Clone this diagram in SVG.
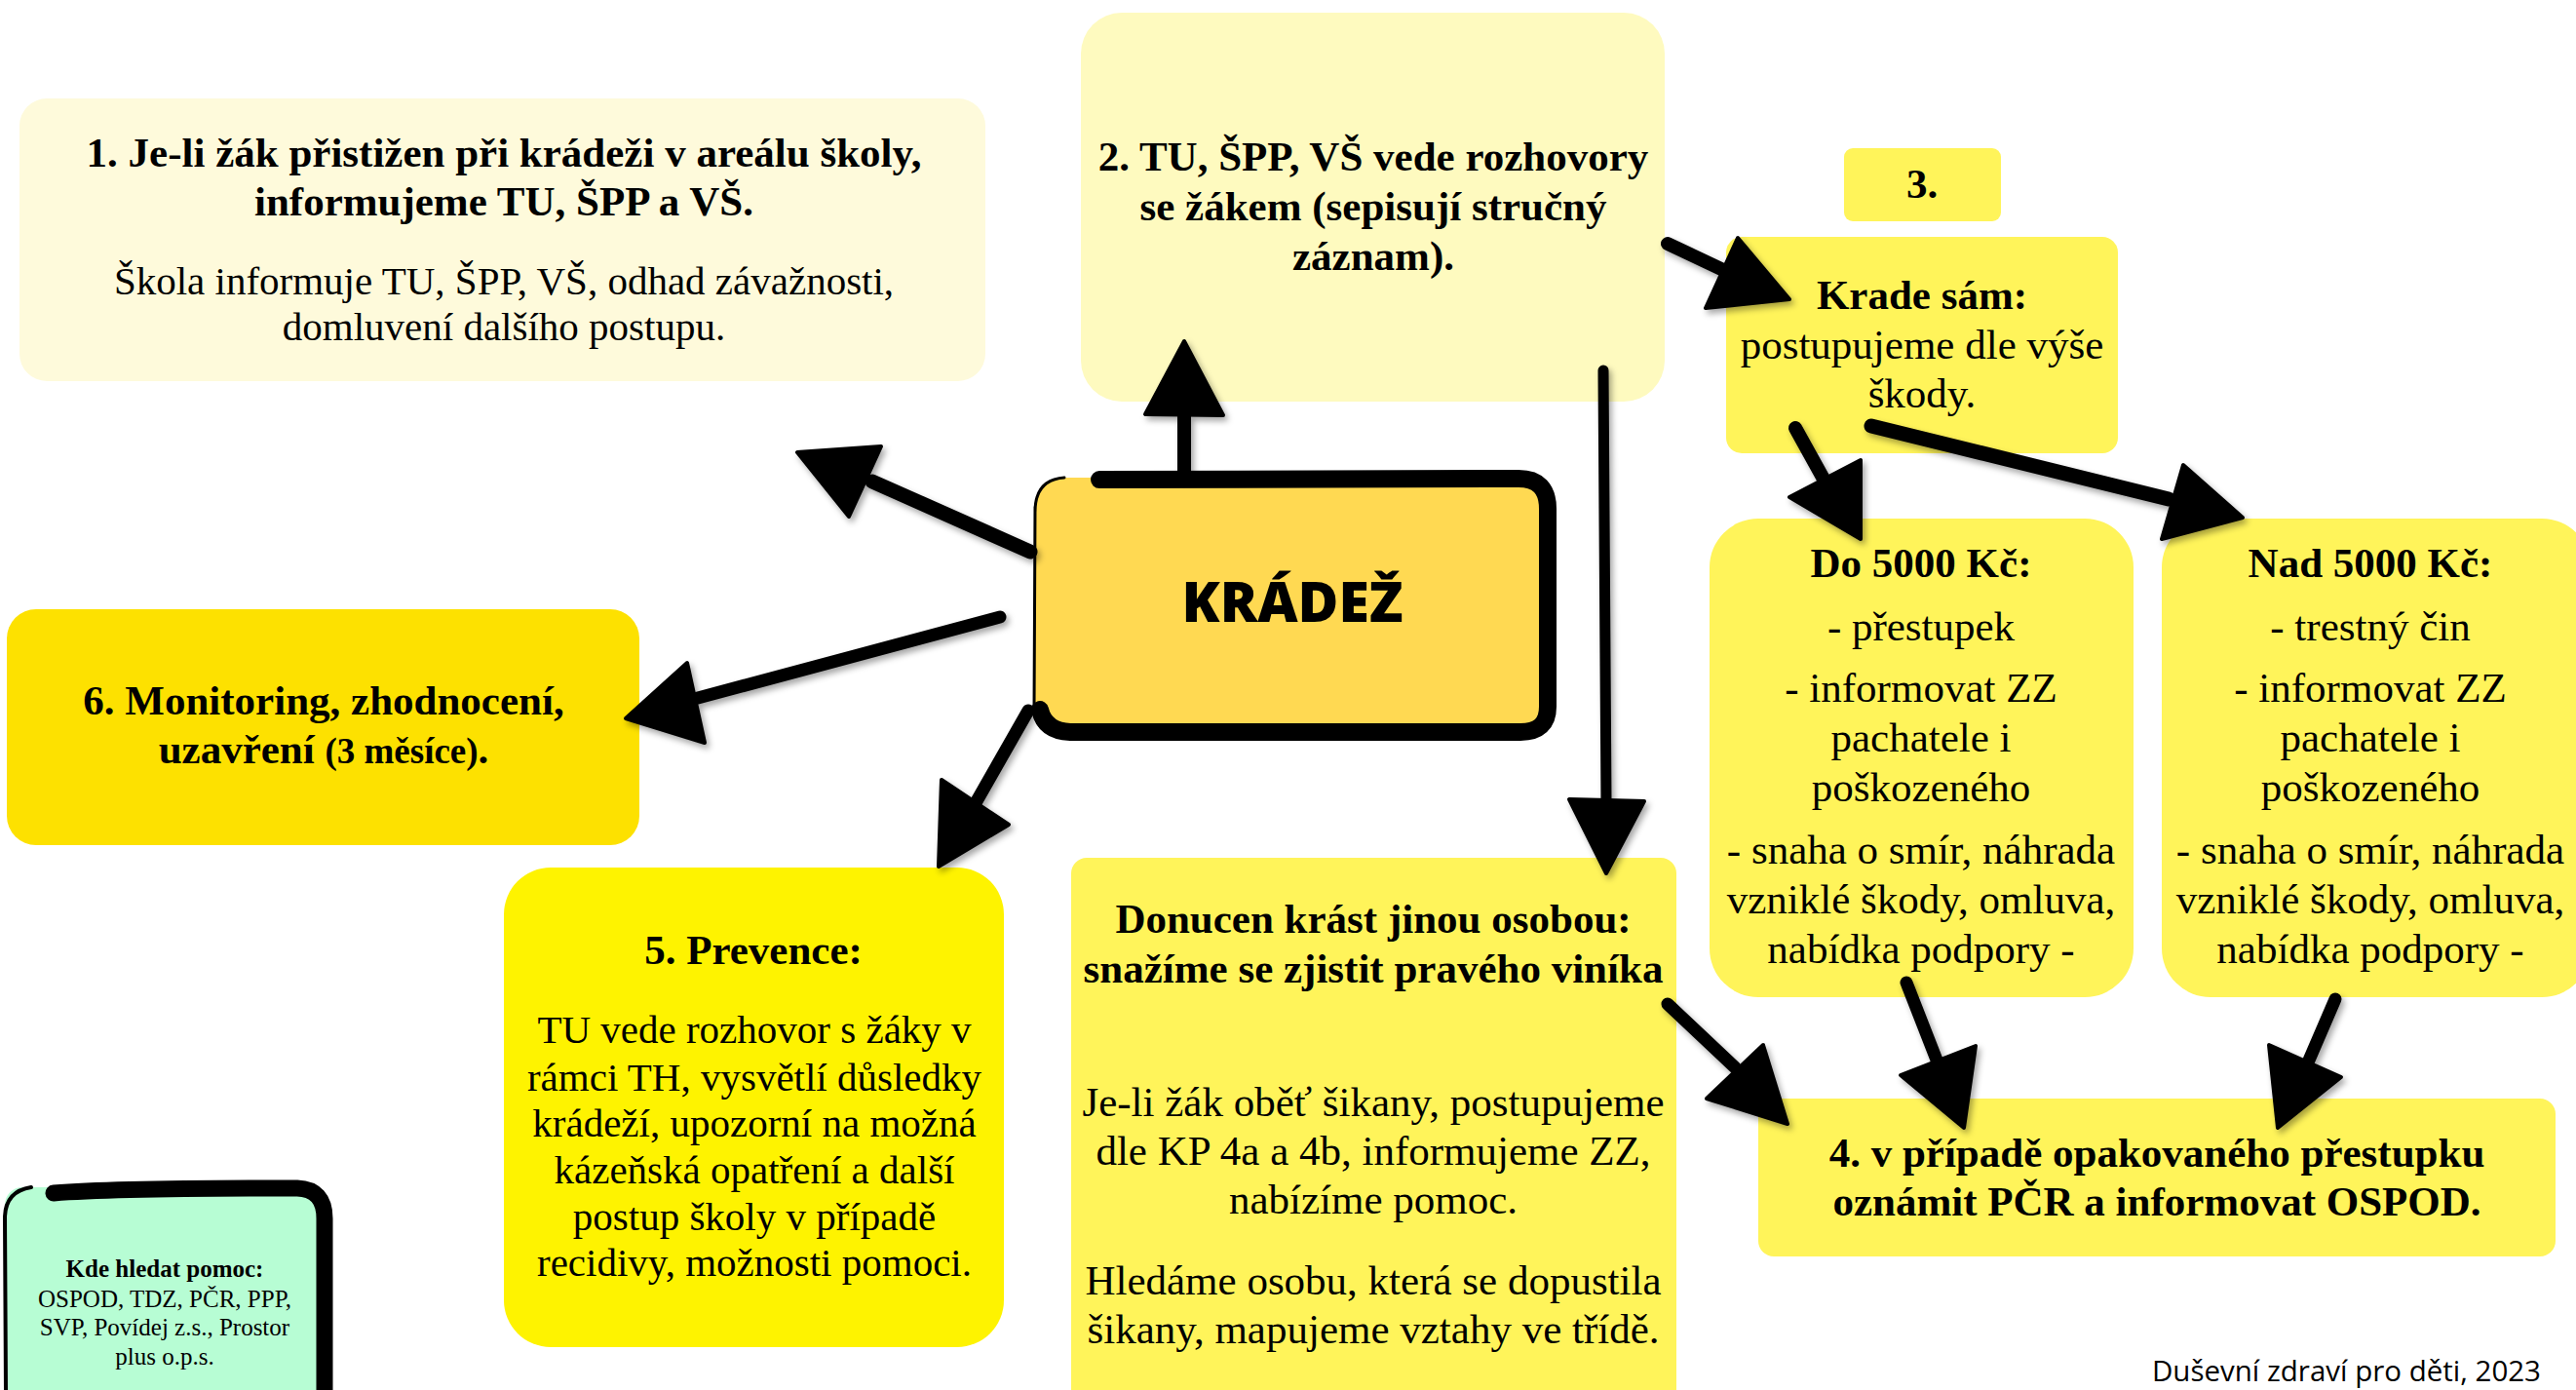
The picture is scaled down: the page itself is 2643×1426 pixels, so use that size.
<svg xmlns="http://www.w3.org/2000/svg" width="2643" height="1426" viewBox="0 0 2643 1426">
<style>
.s{font-family:"Liberation Serif","Times New Roman",serif;fill:#000;text-anchor:middle}
.b{font-weight:bold}
.f43{font-size:43px}
.f42{font-size:42px}
.f41{font-size:41px}
.f24{font-size:25px}
.sh{stroke:#000;fill:none;stroke-linecap:round;stroke-linejoin:round}
.hd{fill:#000;stroke:#000;stroke-width:4;stroke-linejoin:round}
</style>
<defs>
<filter id="ds" x="-20%" y="-20%" width="140%" height="140%">
<feDropShadow dx="3" dy="4" stdDeviation="3" flood-color="#000" flood-opacity="0.35"/>
</filter>
</defs>

<g id="node-1">
<rect x="20" y="101" width="991" height="290" rx="28" fill="#FEFADB"/>
<text class="s b f43" x="517" y="171">1. Je-li žák přistižen při krádeži v areálu školy,</text>
<text class="s b f43" x="517" y="221">informujeme TU, ŠPP a VŠ.</text>
<text class="s f41" x="517" y="302">Škola informuje TU, ŠPP, VŠ, odhad závažnosti,</text>
<text class="s f41" x="517" y="349">domluvení dalšího postupu.</text>
</g>

<g id="node-2">
<rect x="1109" y="13" width="599" height="399" rx="42" fill="#FEFABF"/>
<text class="s b f43" x="1409" y="175">2. TU, ŠPP, VŠ vede rozhovory</text>
<text class="s b f43" x="1409" y="226">se žákem (sepisují stručný</text>
<text class="s b f43" x="1409" y="277">záznam).</text>
</g>

<g id="node-3">
<rect x="1892" y="152" width="161" height="75" rx="9" fill="#FFF45A"/>
<text class="s b f43" x="1972" y="203">3.</text>
</g>

<g id="node-krade-sam">
<rect x="1771" y="243" width="402" height="222" rx="16" fill="#FFF45A"/>
<text class="s b f43" x="1972" y="317">Krade sám:</text>
<text class="s f43" x="1972" y="368">postupujeme dle výše</text>
<text class="s f43" x="1972" y="418">škody.</text>
</g>

<g id="node-do5000">
<rect x="1754" y="532" width="435" height="491" rx="50" fill="#FFF45A"/>
<text class="s b f43" x="1971" y="592">Do 5000 Kč:</text>
<text class="s f43" x="1971" y="657">- přestupek</text>
<text class="s f43" x="1971" y="720">- informovat ZZ</text>
<text class="s f43" x="1971" y="771">pachatele i</text>
<text class="s f43" x="1971" y="822">poškozeného</text>
<text class="s f43" x="1971" y="886">- snaha o smír, náhrada</text>
<text class="s f43" x="1971" y="937">vzniklé škody, omluva,</text>
<text class="s f43" x="1971" y="988">nabídka podpory -</text>
</g>

<g id="node-nad5000">
<rect x="2218" y="532" width="440" height="491" rx="50" fill="#FFF45A"/>
<text class="s b f43" x="2432" y="592">Nad 5000 Kč:</text>
<text class="s f43" x="2432" y="657">- trestný čin</text>
<text class="s f43" x="2432" y="720">- informovat ZZ</text>
<text class="s f43" x="2432" y="771">pachatele i</text>
<text class="s f43" x="2432" y="822">poškozeného</text>
<text class="s f43" x="2432" y="886">- snaha o smír, náhrada</text>
<text class="s f43" x="2432" y="937">vzniklé škody, omluva,</text>
<text class="s f43" x="2432" y="988">nabídka podpory -</text>
</g>

<g id="node-kradez">
<rect x="1062" y="490" width="524" height="262" rx="28" fill="#FFD952"/>
<path class="sh" stroke-width="3" d="M1062,525 Q1062,492 1092,490 M1062,520 L1061,728 Q1062,752 1090,754"/>
<path class="sh" stroke-width="18" d="M1128,492 L1558,491 Q1588,491 1588,522 L1588,725 Q1588,751 1560,751 L1098,751 Q1072,750 1067,728"/>
<text x="1326" y="638" font-family="'Open Sans','DejaVu Sans',sans-serif" font-weight="800" font-size="57" text-anchor="middle" fill="#000">KRÁDEŽ</text>
</g>

<g id="node-6">
<rect x="7" y="625" width="649" height="242" rx="30" fill="#FDE100"/>
<text class="s b f43" x="332" y="733">6. Monitoring, zhodnocení,</text>
<text class="s b f43" x="332" y="783">uzavření <tspan font-size="37">(3 měsíce)</tspan>.</text>
</g>

<g id="node-5">
<rect x="517" y="890" width="513" height="492" rx="48" fill="#FEF300"/>
<text class="s b f43" x="773" y="989">5. Prevence:</text>
<text class="s f41" x="774" y="1070">TU vede rozhovor s žáky v</text>
<text class="s f41" x="774" y="1119">rámci TH, vysvětlí důsledky</text>
<text class="s f41" x="774" y="1166">krádeží, upozorní na možná</text>
<text class="s f41" x="774" y="1214">kázeňská opatření a další</text>
<text class="s f41" x="774" y="1262">postup školy v případě</text>
<text class="s f41" x="774" y="1309">recidivy, možnosti pomoci.</text>
</g>

<g id="node-donucen">
<rect x="1099" y="880" width="621" height="570" rx="16" fill="#FFF45A"/>
<text class="s b f43" x="1409" y="957">Donucen krást jinou osobou:</text>
<text class="s b f43" x="1409" y="1008">snažíme se zjistit pravého viníka</text>
<text class="s f43" x="1409" y="1145">Je-li žák oběť šikany, postupujeme</text>
<text class="s f43" x="1409" y="1195">dle KP 4a a 4b, informujeme ZZ,</text>
<text class="s f43" x="1409" y="1245">nabízíme pomoc.</text>
<text class="s f43" x="1409" y="1328">Hledáme osobu, která se dopustila</text>
<text class="s f43" x="1409" y="1378">šikany, mapujeme vztahy ve třídě.</text>
</g>

<g id="node-4">
<rect x="1804" y="1127" width="818" height="162" rx="16" fill="#FFF45A"/>
<text class="s b f43" x="2213" y="1197">4. v případě opakovaného přestupku</text>
<text class="s b f43" x="2213" y="1247">oznámit PČR a informovat OSPOD.</text>
</g>

<g id="node-help">
<rect x="5" y="1218" width="328" height="230" rx="18" fill="#B7FDD4"/>
<path class="sh" stroke-width="4" d="M6,1430 L5,1248 Q6,1222 32,1218"/>
<path class="sh" stroke-width="17" d="M55,1224 Q120,1219 305,1219 Q333,1220 333,1250 L333,1440"/>
<text class="s b f24" x="169" y="1310">Kde hledat pomoc:</text>
<text class="s f24" x="169" y="1341">OSPOD, TDZ, PČR, PPP,</text>
<text class="s f24" x="169" y="1370">SVP, Povídej z.s., Prostor</text>
<text class="s f24" x="169" y="1400">plus o.p.s.</text>
</g>

<g id="connectors" filter="url(#ds)">
<path class="sh" stroke-width="15" d="M1057,566 L895,494"/>
<polygon class="hd" points="818,464 904,458 871,530"/>

<path class="sh" stroke-width="14" d="M1215,484 L1215,422"/>
<polygon class="hd" points="1215,350 1175,425 1255,426"/>

<path class="sh" stroke-width="13" d="M1026,633 L716,716"/>
<polygon class="hd" points="642,737 705,680 723,762"/>

<path class="sh" stroke-width="13" d="M1055,729 L1002,822"/>
<polygon class="hd" points="963,889 966,800 1035,846"/>

<path class="sh" stroke-width="11" d="M1645,380 L1648,822"/>
<polygon class="hd" points="1648,896 1610,820 1687,822"/>

<path class="sh" stroke-width="14" d="M1711,250 L1766,276"/>
<polygon class="hd" points="1836,307 1783,244 1750,316"/>

<path class="sh" stroke-width="14" d="M1842,439 L1873,495"/>
<polygon class="hd" points="1909,553 1836,510 1909,472"/>

<path class="sh" stroke-width="15" d="M1920,437 L2225,512"/>
<polygon class="hd" points="2301,531 2240,477 2218,553"/>

<path class="sh" stroke-width="13" d="M1711,1030 L1780,1095"/>
<polygon class="hd" points="1834,1153 1751,1127 1809,1072"/>

<path class="sh" stroke-width="13" d="M1956,1008 L1988,1090"/>
<polygon class="hd" points="2015,1157 1950,1103 2027,1073"/>

<path class="sh" stroke-width="13" d="M2396,1025 L2368,1090"/>
<polygon class="hd" points="2337,1157 2328,1072 2402,1105"/>
</g>

<text id="footer" x="2607" y="1417" font-family="'Open Sans','Noto Sans',sans-serif" font-size="29.5" text-anchor="end" fill="#000">Duševní zdraví pro děti, 2023</text>
</svg>
